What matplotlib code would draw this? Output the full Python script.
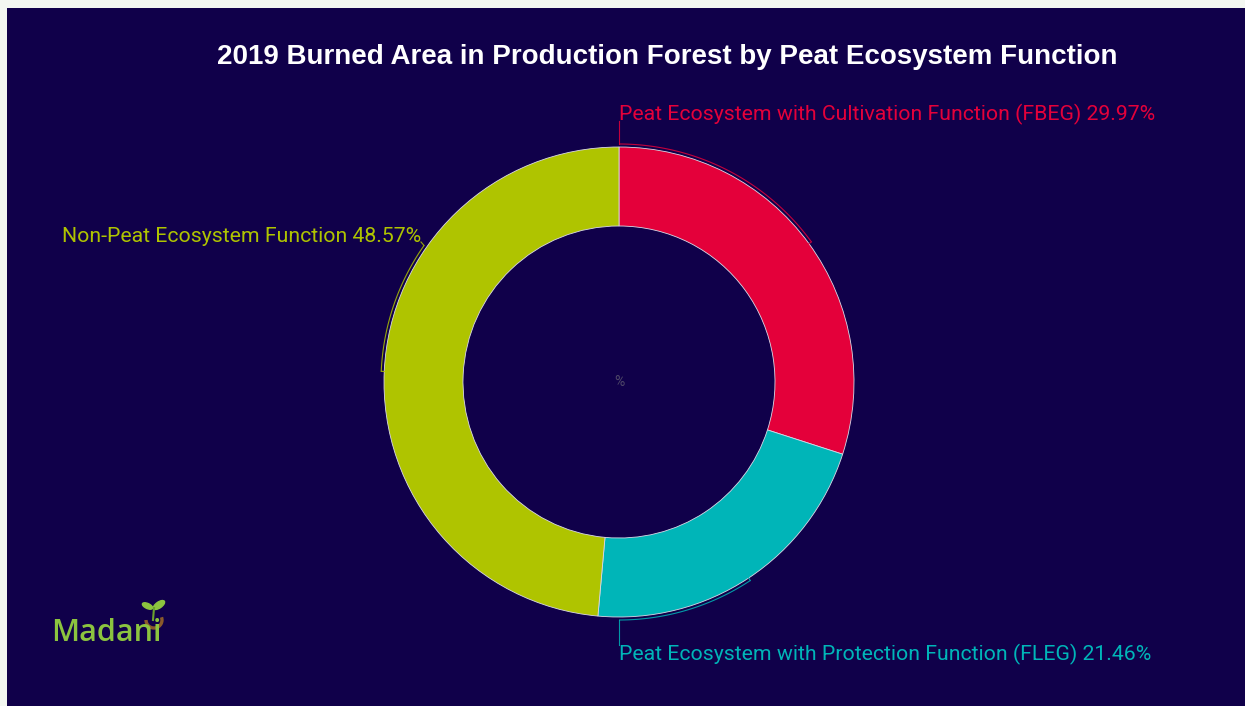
import numpy as np
import matplotlib.pyplot as plt
from matplotlib.patches import Rectangle, Arc, Ellipse

# Burned area shares (%) by peat ecosystem function
categories = [
    "Peat Ecosystem with Cultivation Function (FBEG)",
    "Peat Ecosystem with Protection Function (FLEG)",
    "Non-Peat Ecosystem Function",
]
shares = [29.97, 21.46, 48.57]
colors = ["#e4003a", "#00b5b8", "#afc400"]
title = "2019 Burned Area in Production Forest by Peat Ecosystem Function"

W, H = 1245, 706
BG = "#10004a"

fig = plt.figure(figsize=(W / 100, H / 100), dpi=100, facecolor="#f3f7f1")
fig.patches.append(Rectangle((7 / W, 0), 1, (H - 8) / H, transform=fig.transFigure,
                             facecolor=BG, edgecolor="none", zorder=-5))
ax = fig.add_axes([0, 0, 1, 1])
ax.set_zorder(2)

def Y(y):
    """Convert a top-down pixel row to axes data y."""
    return H - y

cx, cy = 619, Y(382)
R, ring = 235, 79

ax.pie(shares, colors=colors, startangle=90, counterclock=False,
       radius=R, center=(cx, cy),
       wedgeprops=dict(width=ring, edgecolor="#d9d9e6", linewidth=0.6))
ax.set_xlim(0, W)
ax.set_ylim(0, H)
ax.set_aspect("equal")
ax.axis("off")

# compass angles (clockwise from 12 o'clock) of each slice
bounds = np.concatenate([[0], np.cumsum(shares)]) / np.sum(shares) * 360.0
mids = (bounds[:-1] + bounds[1:]) / 2

def pt(a, r):
    t = np.deg2rad(a)
    return cx + r * np.sin(t), cy + r * np.cos(t)

# label layout: anchor angle on the ring, text position, alignment, connector end
layout = [
    dict(anchor=0, text=(619, 114), ha="left", end=(619, 121)),
    dict(anchor=180, text=(619, 654), ha="left", end=(619, 645)),
    dict(anchor=305, text=(421, 237), ha="right", end=(421, 242)),
]

r_arc = R + 3
for cat, val, col, mid, lay in zip(categories, shares, colors, mids, layout):
    a = np.linspace(mid, lay["anchor"], 80)
    xs, ys = pt(a, r_arc)
    ax.plot(xs, ys, color=col, lw=0.8, alpha=0.85, solid_capstyle="butt")
    tx0, ty0 = pt(mid, r_arc)
    tx1, ty1 = pt(mid, r_arc - 4)
    ax.plot([tx0, tx1], [ty0, ty1], color=col, lw=0.8, alpha=0.85)
    ax0, ay0 = pt(lay["anchor"], r_arc)
    ex, ey = lay["end"]
    ax.plot([ax0, ex], [ay0, Y(ey)], color=col, lw=0.8, alpha=0.85)
    ax.text(lay["text"][0], Y(lay["text"][1]), f"{cat} {val:.2f}%",
            color=col, fontsize=15.3, family="Roboto", ha=lay["ha"], va="center")

ax.text(cx, cy, "%", color="#4f4868", fontsize=10, family="Roboto",
        ha="center", va="center")

ax.text(667, Y(57), title, color="white", fontsize=20, fontweight="bold",
        family="Liberation Sans", ha="center", va="center")

# Madani logo
ax.text(51, Y(633), "Madani", color="#8cc43f", fontsize=22, fontweight="semibold",
        family="Open Sans", ha="left", va="center")
ax.add_patch(Arc((154, Y(620)), 16, 16, theta1=180, theta2=360 + 20,
                 color="#8a5a2b", lw=2.4))
ax.plot([153, 154], [Y(620), Y(608)], color="#6aa12e", lw=1.5)
ax.add_patch(Ellipse((147.5, Y(606)), 11, 5, angle=-25, color="#8cc43f"))
ax.add_patch(Ellipse((159, Y(605)), 13, 6, angle=35, color="#8cc43f"))

fig.savefig("out.png", dpi=100, facecolor=fig.get_facecolor())
